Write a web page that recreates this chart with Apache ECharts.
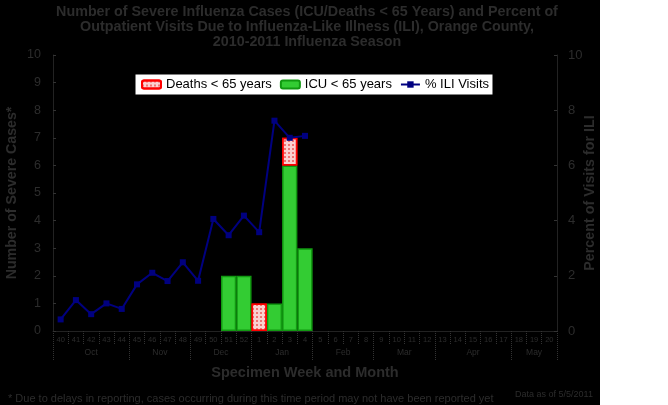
<!DOCTYPE html>
<html>
<head>
<meta charset="utf-8">
<script src="https://cdn.jsdelivr.net/npm/echarts@6/dist/echarts.min.js"></script>
<style>html,body{margin:0;padding:0;background:#fff}#c{width:668px;height:405px}</style>
</head>
<body>
<div id="c"></div>
<script>
// ---- data ----
var weeks = ['40','41','42','43','44','45','46','47','48','49','50','51','52','1','2','3','4','5','6','7','8','9','10','11','12','13','14','15','16','17','18','19','20'];
var months = ['Oct','Nov','Dec','Jan','Feb','Mar','Apr','May'];
var monthWeekCounts = [5,4,4,4,4,4,5,3];
var icu =    [null,null,null,null,null,null,null,null,null,null,null,2,2,null,1,6,3];
var deaths = [null,null,null,null,null,null,null,null,null,null,null,null,null,1,null,1,null];
var iliPct = [0.42,1.12,0.61,1.0,0.8,1.69,2.11,1.81,2.49,1.82,4.06,3.47,4.18,3.58,7.62,7.0,7.07];
var leftTicks = {min:0, max:10, step:1};
var rightTicks = {min:0, max:10, step:2};

// month boundaries / centers derived from counts
var boundaries = [0], centers = {};
(function(){var s=0;for(var i=0;i<monthWeekCounts.length;i++){centers[(s+monthWeekCounts[i]/2).toFixed(1)]=months[i];s+=monthWeekCounts[i];boundaries.push(s);}})();

var txt = '#2c2c2c';
var ff = 'Arial, Liberation Sans';
var chart = echarts.init(document.getElementById('c'));
chart.setOption({
  backgroundColor: {type:'linear',x:0,y:0,x2:1,y2:0,colorStops:[
    {offset:0,color:'#000'},{offset:0.898,color:'#000'},{offset:0.898,color:'#fff'},{offset:1,color:'#fff'}]},
  animation:false,
  title:[
    {text:'Number of Severe Influenza Cases (ICU/Deaths < 65 Years) and Percent of\nOutpatient Visits Due to Influenza-Like Illness (ILI), Orange County,\n2010-2011 Influenza Season',
     left:302, textAlign:'center', top:0,
     textStyle:{color:txt,fontFamily:ff,fontWeight:'bold',fontSize:14.3,lineHeight:15}},
    {text:'* Due to delays in reporting, cases occurring during this time period may not have been reported yet',
     left:3, top:388, textStyle:{color:txt,fontFamily:ff,fontWeight:'normal',fontSize:11}},
    {text:'Data as of 5/5/2011', left:510, top:385,
     textStyle:{color:txt,fontFamily:ff,fontWeight:'normal',fontSize:9}}
  ],
  legend:{
    left:135, top:74, backgroundColor:'#fff', borderColor:'#000', borderWidth:1,
    padding:[4,4,4,6], itemGap:8, itemWidth:19, itemHeight:8,
    textStyle:{color:'#000',fontFamily:ff,fontSize:13},
    data:['Deaths < 65 years','ICU < 65 years','% ILI Visits']
  },
  grid:{left:53,right:111,top:55,bottom:74,containLabel:false,outerBoundsMode:'none'},
  xAxis:[
    {type:'category', data:weeks, boundaryGap:true,
     axisLine:{lineStyle:{color:'#222'}},
     axisTick:{show:true,length:13,lineStyle:{color:'#333',type:'dotted'}},
     axisLabel:{interval:0,fontSize:7.5,color:txt,margin:5,fontFamily:ff}},
    {type:'category', data:weeks, boundaryGap:true, position:'bottom',
     axisLine:{show:false},
     axisTick:{show:true,length:30,lineStyle:{color:'#333',type:'dotted'},
       interval:function(i){return boundaries.indexOf(i)>=0;}},
     axisLabel:{show:false}},
    {type:'value', min:0, max:weeks.length, interval:0.5, position:'bottom',
     axisLine:{show:false}, axisTick:{show:false}, splitLine:{show:false},
     axisLabel:{fontSize:8.5,color:txt,margin:17,fontFamily:ff,showMinLabel:true,showMaxLabel:true,
       formatter:function(v){return centers[v.toFixed(1)]||'';}},
     name:'Specimen Week and Month', nameLocation:'middle', nameGap:34, nameMoveOverlap:false,
     nameTextStyle:{color:txt,fontSize:14.5,fontWeight:'bold',fontFamily:ff}}
  ],
  yAxis:[
    {type:'value', min:leftTicks.min, max:leftTicks.max, interval:leftTicks.step, position:'left',
     axisLine:{show:true,lineStyle:{color:'#222'}}, axisTick:{show:true,inside:true,length:3,lineStyle:{color:'#333'}},
     splitLine:{show:false},
     axisLabel:{color:txt,fontSize:12.5,margin:12,fontFamily:ff},
     name:'Number of Severe Cases*', nameLocation:'middle', nameGap:34, nameRotate:90, nameMoveOverlap:false,
     nameTextStyle:{color:txt,fontSize:14.2,fontWeight:'bold',fontFamily:ff}},
    {type:'value', min:rightTicks.min, max:rightTicks.max, interval:rightTicks.step, position:'right',
     axisLine:{show:true,lineStyle:{color:'#222'}}, axisTick:{show:true,inside:true,length:3,lineStyle:{color:'#333'}},
     splitLine:{show:false},
     axisLabel:{color:txt,fontSize:13,margin:11,fontFamily:ff},
     name:'Percent of Visits for ILI', nameLocation:'middle', nameGap:26, nameRotate:90, nameMoveOverlap:false,
     nameTextStyle:{color:txt,fontSize:14.3,fontWeight:'bold',fontFamily:ff}}
  ],
  series:[
    {name:'ICU < 65 years', type:'bar', stack:'s', data:icu, barWidth:'100%',
     itemStyle:{color:'#33cc33',borderColor:'#119911',borderWidth:1.5}},
    {name:'Deaths < 65 years', type:'bar', stack:'s', data:deaths, barWidth:'100%',
     itemStyle:{color:'#fbd0d0',borderColor:'#ff0000',borderWidth:1.5,
       decal:{symbol:'rect',symbolSize:1,color:'rgba(230,40,40,0.55)',dashArrayX:[2,2],dashArrayY:[2,2]}}},
    {name:'% ILI Visits', type:'line', yAxisIndex:1, data:iliPct,
     symbol:'rect', symbolSize:6, lineStyle:{color:'#000080',width:2},
     itemStyle:{color:'#000080'}, z:5}
  ]
});
</script>
</body>
</html>
